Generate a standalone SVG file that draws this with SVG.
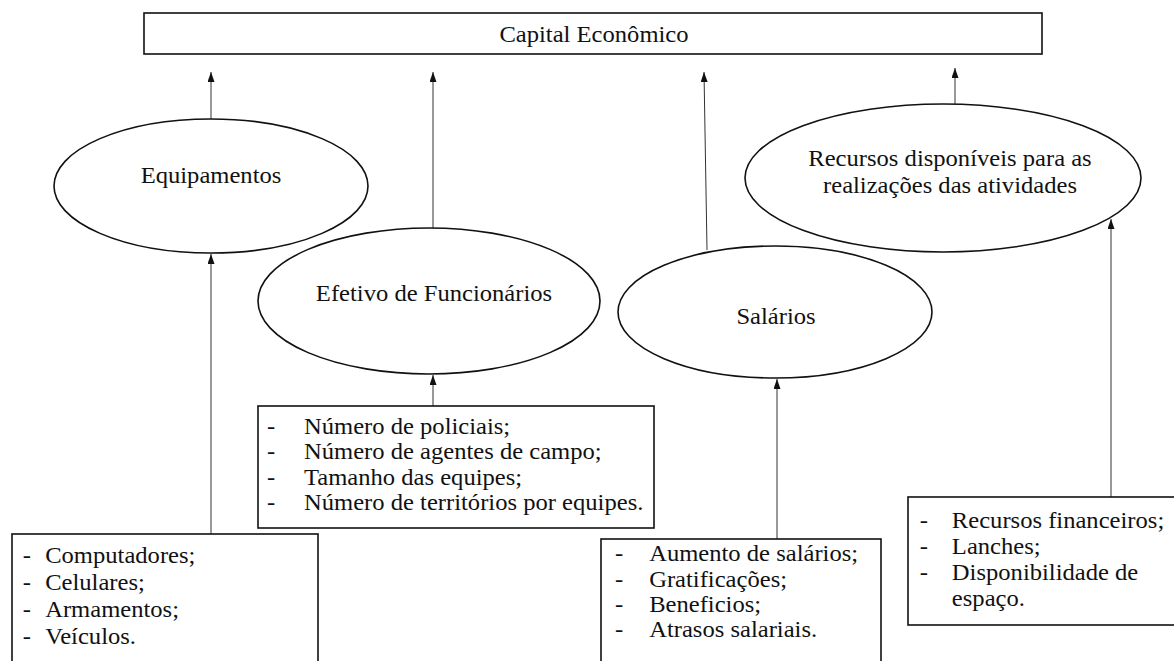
<svg xmlns="http://www.w3.org/2000/svg" width="1174" height="661" viewBox="0 0 1174 661" font-family="'Liberation Serif', 'DejaVu Serif', serif">
<style>
text { font-family: 'Liberation Serif', 'DejaVu Serif', serif; font-size: 23px; fill: #111; }
.mid { text-anchor: middle; }
.shape { fill: #fff; stroke: #111; stroke-width: 1.6; }
.conn { stroke: #333; stroke-width: 1; fill: none; marker-end: url(#arr); }
</style>
<defs>
<marker id="arr" markerUnits="userSpaceOnUse" markerWidth="10" markerHeight="8" refX="10" refY="3.5" orient="auto">
<path d="M0,0 L10,3.5 L0,7 z" fill="#111"/>
</marker>
</defs>
<rect width="1174" height="661" fill="#fff"/>

<g id="connectors">
<line class="conn" x1="211" y1="119" x2="211" y2="72"/>
<line class="conn" x1="433" y1="228" x2="433" y2="72"/>
<line class="conn" x1="707" y1="250" x2="704" y2="72"/>
<line class="conn" x1="955" y1="104" x2="955" y2="68"/>
<line class="conn" x1="211" y1="534" x2="211" y2="254"/>
<line class="conn" x1="433" y1="406" x2="433" y2="375"/>
<line class="conn" x1="777" y1="539" x2="777" y2="379"/>
<line class="conn" x1="1111" y1="497" x2="1111" y2="219"/>
</g>

<g id="capital">
<rect class="shape" x="144" y="13" width="898" height="41"/>
<text class="mid" transform="translate(594,42) scale(1.07,1)">Capital Econômico</text>
</g>

<g id="equipamentos">
<ellipse class="shape" cx="211" cy="186" rx="157" ry="67"/>
<text class="mid" transform="translate(211,183) scale(1.07,1)">Equipamentos</text>
</g>

<g id="efetivo">
<ellipse class="shape" cx="429" cy="301" rx="171" ry="73"/>
<text class="mid" transform="translate(434,301) scale(1.07,1)">Efetivo de Funcionários</text>
</g>

<g id="salarios">
<ellipse class="shape" cx="775" cy="312" rx="157" ry="66"/>
<text class="mid" transform="translate(776,324) scale(1.07,1)">Salários</text>
</g>

<g id="recursos">
<ellipse class="shape" cx="943" cy="178" rx="198" ry="74"/>
<text class="mid" transform="translate(950,166) scale(1.07,1)">Recursos disponíveis para as</text>
<text class="mid" transform="translate(950,193) scale(1.07,1)">realizações das atividades</text>
</g>

<g id="lista-funcionarios">
<rect class="shape" x="258" y="406" width="396" height="122"/>
<g transform="translate(258,0) scale(1.07,1)">
<text x="8.5" y="434">-</text><text x="43" y="434">Número de policiais;</text>
<text x="8.5" y="459">-</text><text x="43" y="459">Número de agentes de campo;</text>
<text x="8.5" y="485">-</text><text x="43" y="485">Tamanho das equipes;</text>
<text x="8.5" y="510">-</text><text x="43" y="510">Número de territórios por equipes.</text>
</g>
</g>

<g id="lista-equipamentos">
<rect class="shape" x="12" y="534" width="306" height="140"/>
<g transform="translate(12,0) scale(1.07,1)">
<text x="10" y="563">-</text><text x="31" y="563">Computadores;</text>
<text x="10" y="590">-</text><text x="31" y="590">Celulares;</text>
<text x="10" y="617">-</text><text x="31" y="617">Armamentos;</text>
<text x="10" y="644">-</text><text x="31" y="644">Veículos.</text>
</g>
</g>

<g id="lista-salarios">
<rect class="shape" x="601" y="539" width="280" height="140"/>
<g transform="translate(601,0) scale(1.07,1)">
<text x="13" y="561">-</text><text x="45" y="561">Aumento de salários;</text>
<text x="13" y="587">-</text><text x="45" y="587">Gratificações;</text>
<text x="13" y="612">-</text><text x="45" y="612">Beneficios;</text>
<text x="13" y="637">-</text><text x="45" y="637">Atrasos salariais.</text>
</g>
</g>

<g id="lista-recursos">
<rect class="shape" x="908" y="497" width="270" height="128"/>
<g transform="translate(908,0) scale(1.07,1)">
<text x="11" y="528">-</text><text x="41" y="528">Recursos financeiros;</text>
<text x="11" y="554">-</text><text x="41" y="554">Lanches;</text>
<text x="11" y="580">-</text><text x="41" y="580">Disponibilidade de</text>
<text x="41" y="606">espaço.</text>
</g>
</g>
</svg>
